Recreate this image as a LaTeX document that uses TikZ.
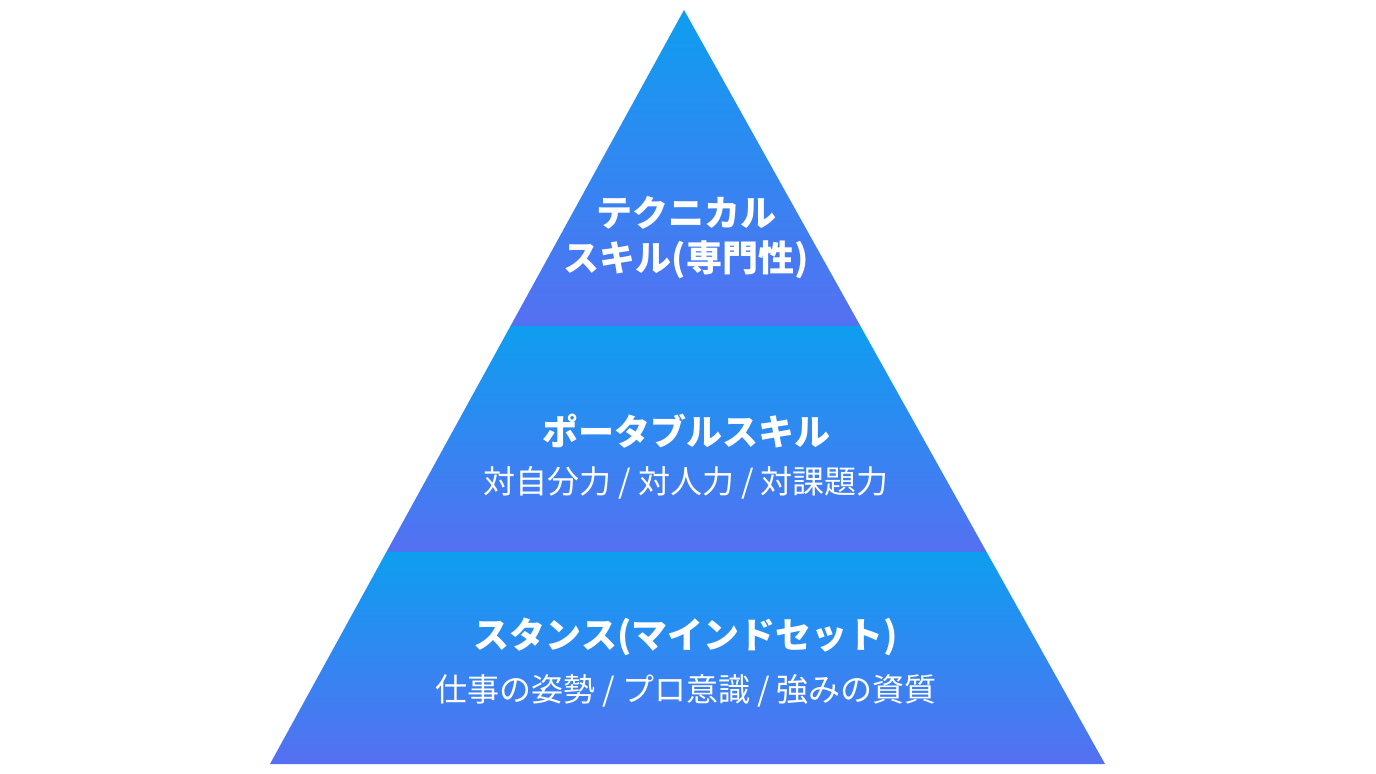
\documentclass[tikz,border=0pt]{standalone}
\usepackage{fontspec}
\newfontfamily\jpfont{Noto Sans CJK JP}
\usetikzlibrary{positioning}
\definecolor{bandtop}{HTML}{0E9EF0}
\definecolor{bandbot}{HTML}{5570F2}
\tikzset{
  band/.style={top color=bandtop, bottom color=bandbot, draw=none},
  head/.style={text=white, font=\jpfont\bfseries\fontsize{18}{22.5}\selectfont, align=center},
  sub/.style={text=white, font=\jpfont\fontsize{16}{20}\selectfont}
}
\begin{document}
\begin{tikzpicture}[x=0.5pt,y=-0.5pt]
\useasboundingbox (0,0) rectangle (1376,774);
\coordinate (apex) at (684,10);
\coordinate (bl) at (270,764);
\coordinate (br) at (1105,764);

\shade[band] (apex) -- (860.4,326) -- (510.5,326) -- cycle;
\shade[band] (510.5,326) -- (860.4,326) -- (986.6,552) -- (386.4,552) -- cycle;
\shade[band] (386.4,552) -- (986.6,552) -- (br) -- (bl) -- cycle;

\node[head] (tech) at (686,238) {テクニカル\\スキル(専門性)};

\node[head] (port) at (686,431) {ポータブルスキル};
\node[sub, below=2pt of port] (portsub) {対自分力 / 対人力 / 対課題力};

\node[head] (stance) at (686,637) {スタンス(マインドセット)};
\node[sub, below=2pt of stance] (stancesub) {仕事の姿勢 / プロ意識 / 強みの資質};
\end{tikzpicture}
\end{document}
